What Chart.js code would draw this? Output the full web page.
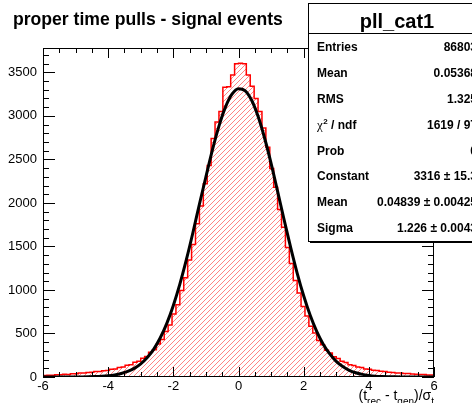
<!DOCTYPE html>
<html>
<head>
<meta charset="UTF-8">
<title>pll_cat1</title>
<script src="https://cdn.jsdelivr.net/npm/chart.js@4.4.0/dist/chart.umd.min.js"></script>
<style>
body{
	margin: 0;
	background-color: white;
}
#box{
	width: 472px;
	height: 403px;
	position: relative;
}
</style>
</head>
<body>
<div id="box"><canvas id="myChart" width="472" height="403"></canvas></div>
<script>
// histogram : 100 bins from -6 to 6
const binLow = -6;
const binWidth = 0.12;
const binCounts = [
	16, 21, 20, 26, 25, 31, 30, 38, 37, 45, 47, 53, 55,
	62, 63, 73, 75, 89, 93, 110, 114, 135, 142, 170, 181, 215, 236, 283, 314, 380,
	430, 522, 598, 724, 830, 995, 1140, 1345, 1522, 1760, 1965, 2220, 2430,
	2740, 2930, 3050, 3330, 3335, 3470, 3600, 3605, 3600, 3470, 3340, 3200, 3050,
	2860, 2640, 2395, 2180, 1925, 1720, 1488, 1305, 1110, 965, 810, 700, 582, 506,
	420, 370, 306, 275, 232, 212, 180, 166, 142, 132, 114, 108, 92, 88, 77, 74,
	65, 63, 55, 53, 47, 46, 41, 39, 34, 33, 29, 28, 24, 22
];
// gaus fit, read every 0.2 from -6 to 6
const fitStep = 0.2;
const fitValues = [
	0, 0, 0.1, 0.2, 0.4,
	0.7, 1.3, 2.5, 4.6, 8.2, 14, 24, 40, 64, 99, 151, 223, 321, 451, 616, 822, 1067, 1348, 1657, 1985,
	2301, 2610, 2883, 3101, 3249,
	3313,
	3291, 3182, 2995, 2746, 2455, 2133, 1807, 1489, 1194, 933, 709, 524, 377, 265, 180, 120, 77, 49, 30, 18,
	10, 5.8, 3.2, 1.7, 0.9, 0.4, 0.2, 0.1, 0, 0
];
const xTicks = [-6, -4, -2, 0, 2, 4, 6];
const yTicks = [0, 500, 1000, 1500, 2000, 2500, 3000, 3500];
const yMax = 3780;

const statLabels = ['Entries', 'Mean', 'RMS', 'chi2', 'Prob', 'Constant', 'Mean', 'Sigma'];
const statValues = ['86803', '0.05368', '1.325', '1619 / 97', '0', '3316 \u00b1 15.3', '0.04839 \u00b1 0.00425', '1.226 \u00b1 0.0043'];

// points for the step line (closed down to 0 on both ends)
let histPoints = [{x: binLow, y: 0}];
for(let i = 0; i < binCounts.length; i++){
	histPoints.push({x: binLow + binWidth * i, y: binCounts[i]});
}
histPoints.push({x: binLow + binWidth * binCounts.length, y: binCounts[binCounts.length - 1]});
histPoints.push({x: binLow + binWidth * binCounts.length, y: 0});

let fitPoints = fitValues.map(function(v, i){ return {x: -6 + fitStep * i, y: v}; });

// red hatch like root fill style 3004
function makeHatch(){
	const s = 5;
	const c = document.createElement('canvas');
	c.width = s; c.height = s;
	const g = c.getContext('2d');
	g.strokeStyle = 'rgba(255,30,30,0.55)';
	g.lineWidth = 1;
	g.beginPath();
	g.moveTo(0, s); g.lineTo(s, 0);
	g.moveTo(-1, 1); g.lineTo(1, -1);
	g.moveTo(s - 1, s + 1); g.lineTo(s + 1, s - 1);
	g.stroke();
	return g.createPattern(c, 'repeat');
}

const FONT = '"Liberation Sans", Arial, Helvetica, sans-serif';

// frame, ticks on all four sides, titles and stats box
const rootStyle = {
	id: 'rootStyle',
	afterDraw: function(chart){
		const ctx = chart.ctx;
		const a = chart.chartArea;
		const xs = chart.scales.x, ys = chart.scales.y;
		ctx.save();
		ctx.strokeStyle = 'black';
		ctx.lineWidth = 1;
		ctx.strokeRect(a.left + 0.5, a.top + 0.5, a.right - a.left - 1, a.bottom - a.top - 1);

		ctx.beginPath();
		for(let v = 0; v <= 3700; v += 100){
			const p = Math.round(ys.getPixelForValue(v)) + 0.5;
			const len = (v % 500 == 0) ? 12 : 6;
			ctx.moveTo(a.left, p); ctx.lineTo(a.left + len, p);
			ctx.moveTo(a.right, p); ctx.lineTo(a.right - len, p);
		}
		for(let v = -6; v <= 6; v += 0.5){
			const p = Math.round(xs.getPixelForValue(v)) + 0.5;
			const len = (v % 2 == 0) ? 10 : 5;
			ctx.moveTo(p, a.bottom); ctx.lineTo(p, a.bottom - len);
			ctx.moveTo(p, a.top); ctx.lineTo(p, a.top + len);
		}
		ctx.stroke();

		// main title
		ctx.fillStyle = 'black';
		ctx.textBaseline = 'alphabetic';
		ctx.textAlign = 'left';
		ctx.font = 'bold 17.6px ' + FONT;
		ctx.fillText('proper time pulls - signal events', 13, 25);

		// x axis title (t_rec - t_gen)/sigma_t
		const parts = [
			['(t', 0], ['rec', 1], [' - t', 0], ['gen', 1], [')/\u03c3', 0], ['t', 1]
		];
		let total = 0;
		parts.forEach(function(pt){
			ctx.font = (pt[1] ? '10px ' : '14px ') + FONT;
			total += ctx.measureText(pt[0]).width;
		});
		let px = a.right - total;
		parts.forEach(function(pt){
			ctx.font = (pt[1] ? '10px ' : '14px ') + FONT;
			ctx.fillText(pt[0], px, pt[1] ? 405 : 400);
			px += ctx.measureText(pt[0]).width;
		});

		// stats box
		const bx = 308, by = 3, bw = 190, bh = 238;
		ctx.fillStyle = 'black';
		ctx.fillRect(bx + 2, by + bh, bw, 2);
		ctx.fillStyle = 'white';
		ctx.fillRect(bx, by, bw, bh);
		ctx.strokeRect(bx + 0.5, by + 0.5, bw, bh);
		ctx.beginPath();
		ctx.moveTo(bx, 33.5); ctx.lineTo(bx + bw, 33.5);
		ctx.stroke();
		ctx.fillStyle = 'black';
		ctx.textAlign = 'center';
		ctx.font = 'bold 20px ' + FONT;
		ctx.fillText('pll_cat1', 397, 28);

		ctx.textBaseline = 'middle';
		for(let i = 0; i < statLabels.length; i++){
			const yy = 48 + i * 25.8;
			ctx.textAlign = 'left';
			if(statLabels[i] == 'chi2'){
				ctx.font = '13px "Liberation Serif", serif';
				ctx.fillText('\u03c7', 317, yy);
				let w = ctx.measureText('\u03c7').width;
				ctx.font = 'bold 8px ' + FONT;
				ctx.fillText('2', 317 + w + 0.5, yy - 4);
				ctx.font = 'bold 12px ' + FONT;
				ctx.fillText(' / ndf', 317 + w + 5, yy);
			}else{
				ctx.font = 'bold 12px ' + FONT;
				ctx.fillText(statLabels[i], 317, yy);
			}
			ctx.textAlign = 'right';
			ctx.font = 'bold 12px ' + FONT;
			ctx.fillText(statValues[i], 477, yy);
		}
		ctx.restore();
	}
};

const ctx = document.getElementById('myChart').getContext('2d');
const chart = new Chart(ctx, {
	type: 'line',
	data: {
		datasets: [{
			label: 'gaus',
			data: fitPoints,
			borderColor: 'black',
			borderWidth: 3,
			pointRadius: 0,
			fill: false,
			cubicInterpolationMode: 'monotone',
			order: 0
		}, {
			label: 'pll_cat1',
			data: histPoints,
			stepped: true,
			borderColor: 'red',
			borderWidth: 1.5,
			pointRadius: 0,
			fill: 'origin',
			backgroundColor: makeHatch(),
			order: 1
		}]
	},
	options: {
		responsive: false,
		animation: false,
		devicePixelRatio: 1,
		layout: { padding: { top: 48, right: 38, left: 0, bottom: 0 } },
		plugins: { legend: { display: false }, tooltip: { enabled: false }, title: { display: false } },
		scales: {
			x: {
				type: 'linear',
				min: -6, max: 6,
				afterBuildTicks: function(s){ s.ticks = xTicks.map(function(v){ return {value: v}; }); },
				afterFit: function(s){ s.height = 26; },
				grid: { display: false, drawTicks: false },
				border: { display: false },
				ticks: { color: 'black', padding: 2, maxRotation: 0, font: { family: FONT, size: 13 },
					callback: function(v){ return String(v); } }
			},
			y: {
				min: 0, max: yMax,
				afterBuildTicks: function(s){ s.ticks = yTicks.map(function(v){ return {value: v}; }); },
				afterFit: function(s){ s.width = 43; },
				grid: { display: false, drawTicks: false },
				border: { display: false },
				ticks: { color: 'black', padding: 6, font: { family: FONT, size: 13 },
					callback: function(v){ return String(v); } }
			}
		}
	},
	plugins: [rootStyle]
});
</script>
</body>
</html>
